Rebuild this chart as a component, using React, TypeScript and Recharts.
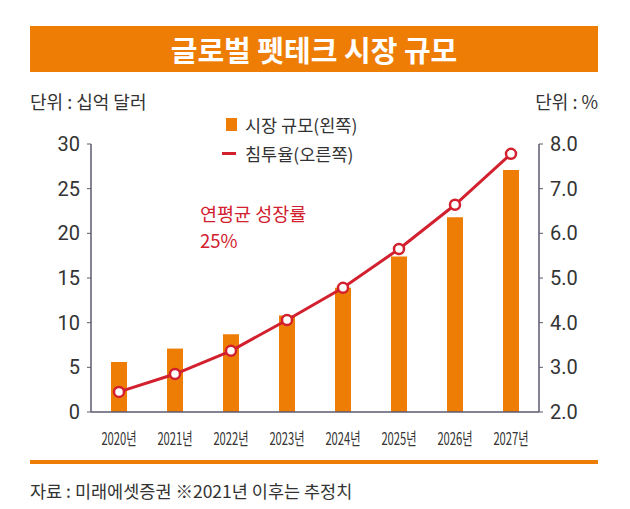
import React from "react";
import { ComposedChart, Bar, Line, XAxis, YAxis } from "recharts";

const years = ["2020년", "2021년", "2022년", "2023년", "2024년", "2025년", "2026년", "2027년"];
const marketSize = [5.6, 7.1, 8.7, 10.8, 13.9, 17.4, 21.8, 27.1];
const penetration = [2.45, 2.85, 3.37, 4.06, 4.78, 5.65, 6.64, 7.78];
const leftTicks = [0, 5, 10, 15, 20, 25, 30];
const rightTicks = [2, 3, 4, 5, 6, 7, 8];

const ORANGE = "#ee7d06";
const RED = "#d2202e";
const AXIS = "#5a5a6e";
const FONT = "'Noto Sans CJK KR', 'Noto Sans', sans-serif";

const data = years.map((year, i) => ({
  year,
  size: marketSize[i],
  rate: penetration[i],
}));

function YearTick({ x, y, payload }: any) {
  return (
    <g transform={`translate(${x},${y + 31})`}>
      <text
        transform="scale(0.66,1)"
        textAnchor="middle"
        fontSize={17}
        fill="#333"
        fontFamily={FONT}
      >
        {payload.value}
      </text>
    </g>
  );
}

export default function App() {
  return (
    <div
      style={{
        position: "absolute",
        left: 0,
        top: 0,
        width: 630,
        height: 509,
        background: "#fff",
        fontFamily: FONT,
        overflow: "hidden",
      }}
    >
      <div
        style={{
          position: "absolute",
          left: 30,
          top: 26,
          width: 568,
          height: 46,
          background: ORANGE,
          color: "#fff",
          fontSize: 29,
          fontWeight: 700,
          textAlign: "center",
          lineHeight: "46px",
        }}
      >
        글로벌 펫테크 시장 규모
      </div>
      <div style={{ position: "absolute", left: 30, top: 88, fontSize: 18, color: "#333" }}>
        단위 : 십억 달러
      </div>
      <div style={{ position: "absolute", right: 32, top: 88, fontSize: 18, color: "#333" }}>
        단위 : %
      </div>

      <ComposedChart
        width={630}
        height={509}
        data={data}
        margin={{ top: 144, right: 0, bottom: 67, left: 0 }}
        style={{ position: "absolute", left: 0, top: 0 }}
      >
        <XAxis
          dataKey="year"
          axisLine={{ stroke: AXIS, strokeWidth: 1.5 }}
          tickLine={false}
          tickSize={0}
          height={30}
          tick={<YearTick />}
          interval={0}
        />
        <YAxis
          yAxisId="left"
          width={91}
          domain={[0, 30]}
          ticks={leftTicks}
          axisLine={{ stroke: AXIS, strokeWidth: 1.5 }}
          tickLine={{ stroke: AXIS }}
          tickSize={4}
          tickMargin={7}
          tick={{ fill: "#333", fontSize: 20, fontFamily: "Roboto" }}
        />
        <YAxis
          yAxisId="right"
          orientation="right"
          width={91}
          domain={[2, 8]}
          ticks={rightTicks}
          tickFormatter={(v: number) => v.toFixed(1)}
          axisLine={{ stroke: AXIS, strokeWidth: 1.5 }}
          tickLine={{ stroke: AXIS }}
          tickSize={4}
          tickMargin={7}
          tick={{ fill: "#333", fontSize: 20, fontFamily: "Roboto", textAnchor: "start" }}
        />
        <Bar yAxisId="left" dataKey="size" fill={ORANGE} barSize={16} isAnimationActive={false} />
        <Line
          yAxisId="right"
          dataKey="rate"
          stroke={RED}
          strokeWidth={3}
          dot={{ r: 5, fill: "#fff", stroke: RED, strokeWidth: 2.5 }}
          isAnimationActive={false}
        />
      </ComposedChart>

      <div
        style={{
          position: "absolute",
          left: 222,
          top: 110,
          fontSize: 17.5,
          color: "#333",
          lineHeight: "29px",
        }}
      >
        <div style={{ display: "flex", alignItems: "center" }}>
          <span style={{ display: "inline-block", width: 11, height: 13, background: ORANGE, marginLeft: 4, marginRight: 8 }} />
          시장 규모(왼쪽)
        </div>
        <div style={{ display: "flex", alignItems: "center" }}>
          <span style={{ display: "inline-block", width: 14, height: 3, background: RED, marginRight: 9 }} />
          침투율(오른쪽)
        </div>
      </div>

      <div
        style={{
          position: "absolute",
          left: 200,
          top: 200,
          fontSize: 18.5,
          color: RED,
          lineHeight: "27px",
        }}
      >
        연평균 성장률
        <br />
        25%
      </div>

      <div style={{ position: "absolute", left: 30, top: 460, width: 568, height: 4, background: ORANGE }} />
      <div style={{ position: "absolute", left: 30, top: 478, fontSize: 17.5, color: "#333" }}>
        자료 : 미래에셋증권 ※2021년 이후는 추정치
      </div>
    </div>
  );
}
